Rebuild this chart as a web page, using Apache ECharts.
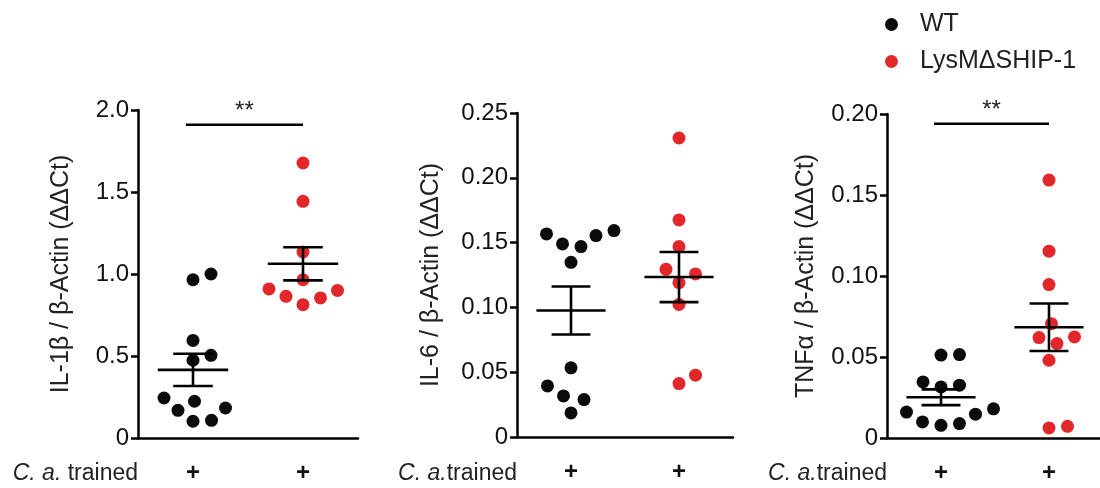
<!DOCTYPE html>
<html><head><meta charset="utf-8">
<script src="https://cdn.jsdelivr.net/npm/echarts@6/dist/echarts.min.js"></script>
<style>html,body{margin:0;padding:0;background:#fff}#c{width:1100px;height:488px}</style>
</head><body><div id="c"></div>
<script>
// ---------- data ----------
const groups = ['WT', 'LysMΔSHIP-1'];
const xTickLabels = ['+', '+'];
const il1bWT = [1.00, 0.965, 0.595, 0.504, 0.474, 0.244, 0.224, 0.183, 0.169, 0.108, 0.102];
const il1bKO = [1.677, 1.443, 1.134, 0.965, 0.909, 0.900, 0.864, 0.854, 0.813];
const il6WT = [0.1593, 0.1567, 0.1554, 0.149, 0.1469, 0.1348, 0.0534, 0.0394, 0.0317, 0.0289, 0.0186];
const il6KO = [0.2307, 0.1675, 0.1469, 0.1294, 0.1258, 0.1191, 0.1023, 0.0477, 0.0412];
const tnfWT = [0.0515, 0.0512, 0.0346, 0.0326, 0.0315, 0.018, 0.016, 0.0147, 0.0099, 0.0089, 0.0078];
const tnfKO = [0.1592, 0.1153, 0.0947, 0.0706, 0.0624, 0.062, 0.0583, 0.048, 0.0072, 0.0062];
const il1bTicks = ['0', '0.5', '1.0', '1.5', '2.0'];
const il6Ticks = ['0', '0.05', '0.10', '0.15', '0.20', '0.25'];
const tnfTicks = ['0', '0.05', '0.10', '0.15', '0.20'];
const yNames = ['IL-1β / β-Actin (ΔΔCt)', 'IL-6 / β-Actin (ΔΔCt)', 'TNFα / β-Actin (ΔΔCt)'];
const xNames = ['{i|C. a.} trained', '{i|C. a.}trained', '{i|C. a.}trained'];
const sigMarks = ['**', '', '**'];

// ---------- layout / style ----------
const FONT = 'Liberation Sans, Arial, Helvetica, sans-serif';
const COLORS = ['#0b0b0b', '#e2272b'];
const R = 6.5, D = 18.5;
const panels = [
  {wt: il1bWT, ko: il1bKO, ticks: il1bTicks, max: 2, interval: 0.5, sigAt: 1.91,
   grid: {left: 138, top: 110, width: 220, height: 328}, nameGap: 64},
  {wt: il6WT, ko: il6KO, ticks: il6Ticks, max: 0.25, interval: 0.05, sigAt: null,
   grid: {left: 517, top: 113, width: 216, height: 324}, nameGap: 73},
  {wt: tnfWT, ko: tnfKO, ticks: tnfTicks, max: 0.2, interval: 0.05, sigAt: 0.194,
   grid: {left: 887, top: 114, width: 216, height: 324}, nameGap: 68}
];

function meanSem(a) {
  const n = a.length, m = a.reduce((s, v) => s + v, 0) / n;
  const sd = Math.sqrt(a.reduce((s, v) => s + (v - m) * (v - m), 0) / (n - 1));
  return [m, sd / Math.sqrt(n)];
}
function swarm(pys) {
  const order = pys.map((y, i) => i).sort((a, b) => pys[b] - pys[a]);
  const xs = new Array(pys.length), placed = [];
  for (const i of order) {
    let x = 0;
    for (let s = 0; s < 600; s++) {
      const c = s === 0 ? 0 : (s % 2 ? 1 : -1) * Math.ceil(s / 2) * 0.5;
      if (placed.every(j => Math.hypot(c - xs[j], pys[i] - pys[j]) >= D)) { x = c; break; }
    }
    xs[i] = x; placed.push(i);
  }
  return xs;
}

const grids = [], xAxes = [], yAxes = [], series = [], graphics = [];
panels.forEach((p, k) => {
  grids.push(Object.assign({outerBoundsMode: 'none', containLabel: false}, p.grid));
  xAxes.push({
    type: 'category', gridIndex: k, data: groups, boundaryGap: true,
    axisLine: {lineStyle: {color: '#000', width: 2.5}},
    axisTick: {alignWithLabel: true, length: 8, lineStyle: {color: '#000', width: 2.5}},
    axisLabel: {formatter: (v, i) => xTickLabels[i], fontSize: 24, fontWeight: 'bold', color: '#111', margin: 23, fontFamily: FONT},
    splitLine: {show: false}
  });
  yAxes.push({
    type: 'value', gridIndex: k, min: 0, max: p.max, interval: p.interval,
    axisLine: {show: true, lineStyle: {color: '#000', width: 2.5}},
    axisTick: {show: true, length: 7, lineStyle: {color: '#000', width: 2.5}},
    axisLabel: {formatter: v => p.ticks[Math.round(v / p.interval)], fontSize: 24, color: '#111', margin: 9, fontFamily: FONT},
    splitLine: {show: false},
    name: yNames[k], nameLocation: 'middle', nameGap: p.nameGap,
    nameTextStyle: {fontSize: 25, color: '#222', fontFamily: FONT}
  });
  [p.wt, p.ko].forEach((vals, g) => {
    let xs = null;
    series.push({
      type: 'custom', name: groups[g], xAxisIndex: k, yAxisIndex: k,
      itemStyle: {color: COLORS[g]}, z: 2, clip: false,
      data: vals.map(v => [g, v]),
      renderItem: (params, api) => {
        if (params.dataIndex === 0 || !xs) xs = swarm(vals.map(v => api.coord([g, v])[1]));
        const c = api.coord([g, api.value(1)]);
        return {type: 'circle', shape: {cx: c[0] + xs[params.dataIndex], cy: c[1], r: R}, style: {fill: COLORS[g]}};
      }
    });
  });
  // mean ± SEM
  series.push({
    type: 'custom', name: 'meanSEM' + k, xAxisIndex: k, yAxisIndex: k, z: 5, clip: false,
    data: [p.wt, p.ko].map((a, g) => [g].concat(meanSem(a))),
    renderItem: (params, api) => {
      const g = api.value(0), m = api.value(1), se = api.value(2);
      const band = api.size([1, 0])[0];
      const c = api.coord([g, m]), t = api.coord([g, m + se]), b = api.coord([g, m - se]);
      const hw = band * 0.32, cw = band * 0.18;
      const st = {stroke: '#000', lineWidth: 2.6};
      return {type: 'group', children: [
        {type: 'line', shape: {x1: c[0] - hw, y1: c[1], x2: c[0] + hw, y2: c[1]}, style: st},
        {type: 'line', shape: {x1: c[0], y1: t[1], x2: c[0], y2: b[1]}, style: st},
        {type: 'line', shape: {x1: c[0] - cw, y1: t[1], x2: c[0] + cw, y2: t[1]}, style: st},
        {type: 'line', shape: {x1: c[0] - cw, y1: b[1], x2: c[0] + cw, y2: b[1]}, style: st}
      ]};
    }
  });
  if (p.sigAt !== null) {
    series.push({
      type: 'custom', name: 'sig' + k, xAxisIndex: k, yAxisIndex: k, z: 5, clip: false,
      data: [[0, p.sigAt]],
      renderItem: (params, api) => {
        const band = api.size([1, 0])[0];
        const a = api.coord([0, api.value(1)]), b = api.coord([1, api.value(1)]);
        const x0 = a[0] - band * 0.065;
        return {type: 'group', children: [
          {type: 'line', shape: {x1: x0, y1: a[1], x2: b[0], y2: a[1]}, style: {stroke: '#000', lineWidth: 2.6}},
          {type: 'text', style: {text: sigMarks[k], x: (x0 + b[0]) / 2, y: a[1] - 13, align: 'center', verticalAlign: 'middle',
            font: '24px ' + FONT, fill: '#222'}}
        ]};
      }
    });
  }
  graphics.push({
    type: 'text', x: p.grid.left, y: 474,
    style: {text: xNames[k], align: 'right', verticalAlign: 'middle', fill: '#222',
      font: '23px ' + FONT, rich: {i: {fontStyle: 'italic', fontSize: 23, fontFamily: FONT, fill: '#222'}}}
  });
});

const chart = echarts.init(document.getElementById('c'), null, {renderer: 'canvas'});
chart.setOption({
  animation: false,
  backgroundColor: '#fff',
  grid: grids, xAxis: xAxes, yAxis: yAxes, series: series, graphic: graphics,
  legend: {
    data: [{name: groups[0], icon: 'circle'}, {name: groups[1], icon: 'circle'}],
    orient: 'vertical', left: 880, top: 6, itemWidth: 13, itemHeight: 13, itemGap: 10,
    selectedMode: false,
    textStyle: {fontSize: 25, color: '#222', fontFamily: FONT, lineHeight: 27, padding: [0, 0, 0, 17]}
  }
});
</script>
</body></html>
